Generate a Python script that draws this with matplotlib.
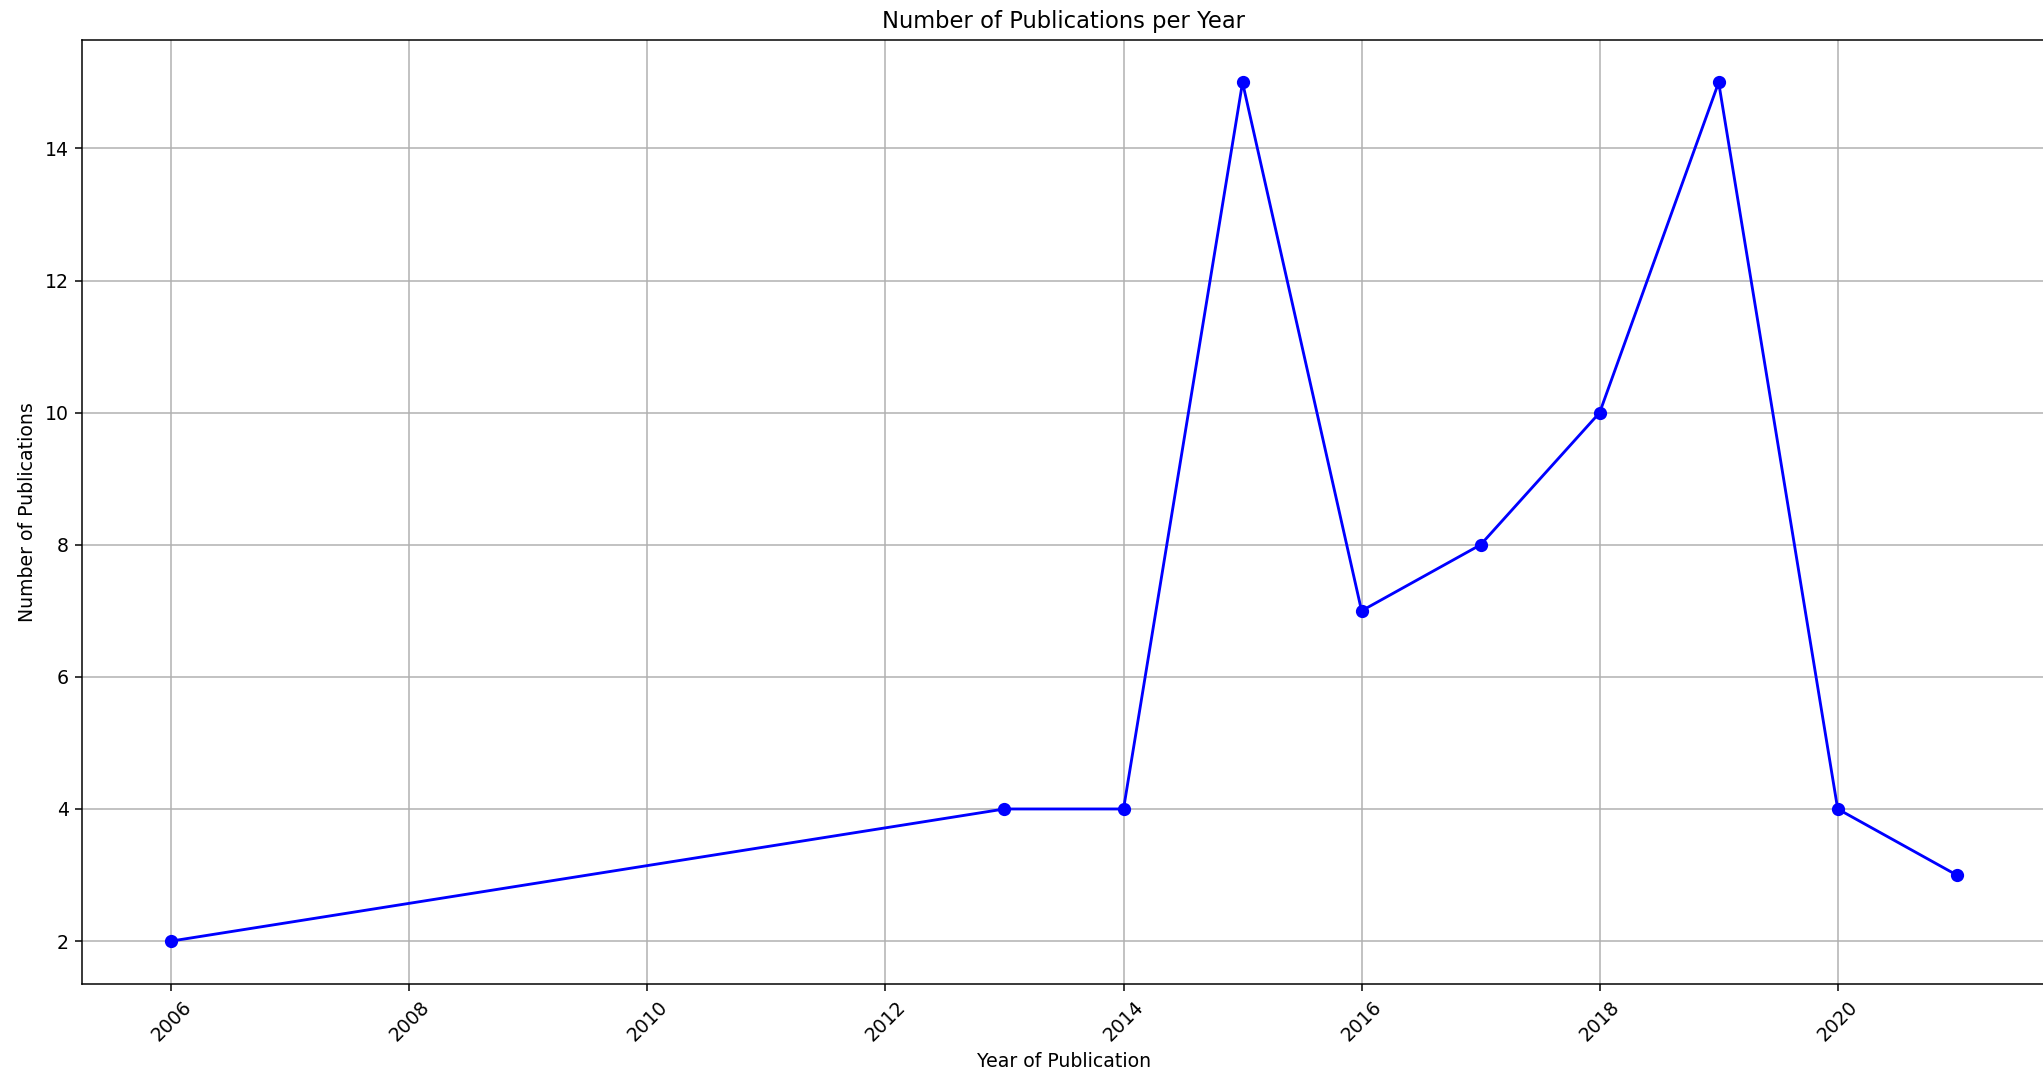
import matplotlib
matplotlib.use('Agg')
from matplotlib import pyplot as plt

# Publications per year
years = [2006, 2013, 2014, 2015, 2016, 2017, 2018, 2019, 2020, 2021]
counts = [2, 4, 4, 15, 7, 8, 10, 15, 4, 3]

dpi = 136
fig = plt.figure(figsize=(2043 / dpi, 1074 / dpi), dpi=dpi)
ax = fig.add_axes([82 / 2043, 1 - 984 / 1074, (2046 - 82) / 2043, (984 - 39.5) / 1074])

ax.plot(years, counts, marker='o', color='b', linestyle='-')

ax.set_title("Number of Publications per Year")
ax.set_xlabel("Year of Publication")
ax.set_ylabel("Number of Publications")
plt.setp(ax.get_xticklabels(), rotation=45)
ax.grid(True)

fig.savefig('out.png', dpi=dpi)
